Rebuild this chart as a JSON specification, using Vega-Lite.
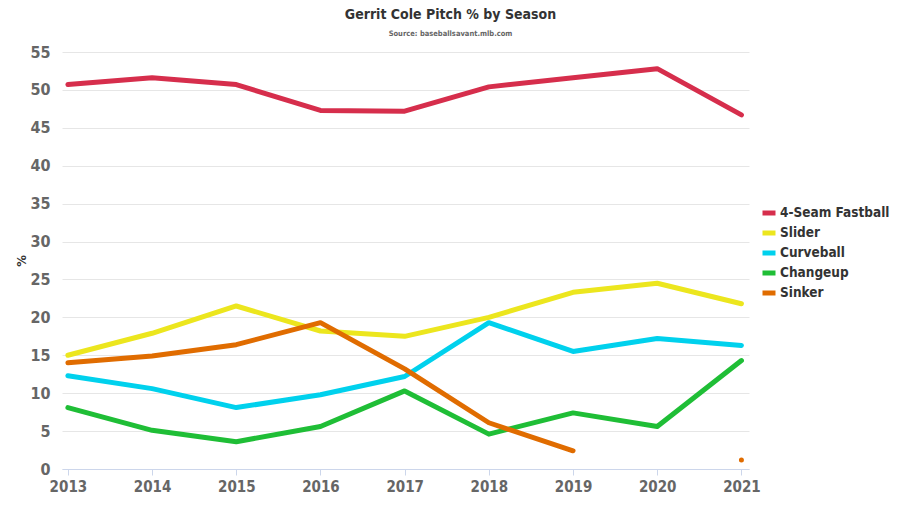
{
  "$schema": "https://vega.github.io/schema/vega-lite/v6.json",
  "width": 687,
  "height": 417,
  "autosize": {"type": "none"},
  "padding": {"left": 62, "top": 52, "right": 151, "bottom": 37},
  "background": "white",
  "title": {
    "text": "Gerrit Cole Pitch % by Season",
    "subtitle": "Source: baseballsavant.mlb.com",
    "anchor": "middle",
    "dx": 45,
    "offset": 7,
    "font": "DejaVu Sans Condensed, Roboto, sans-serif",
    "fontSize": 14,
    "fontWeight": "bold",
    "color": "#333333",
    "subtitleFont": "DejaVu Sans Condensed, Roboto, sans-serif",
    "subtitleFontSize": 7.5,
    "subtitleFontWeight": "bold",
    "subtitleColor": "#666666",
    "subtitlePadding": 8
  },
  "data": {
    "values": [
      {"season": 2013, "pitch": "4-Seam Fastball", "pct": 50.7},
      {"season": 2014, "pitch": "4-Seam Fastball", "pct": 51.6},
      {"season": 2015, "pitch": "4-Seam Fastball", "pct": 50.7},
      {"season": 2016, "pitch": "4-Seam Fastball", "pct": 47.3},
      {"season": 2017, "pitch": "4-Seam Fastball", "pct": 47.2},
      {"season": 2018, "pitch": "4-Seam Fastball", "pct": 50.4},
      {"season": 2019, "pitch": "4-Seam Fastball", "pct": 51.6},
      {"season": 2020, "pitch": "4-Seam Fastball", "pct": 52.8},
      {"season": 2021, "pitch": "4-Seam Fastball", "pct": 46.7},
      {"season": 2013, "pitch": "Slider", "pct": 15.0},
      {"season": 2014, "pitch": "Slider", "pct": 17.9},
      {"season": 2015, "pitch": "Slider", "pct": 21.5},
      {"season": 2016, "pitch": "Slider", "pct": 18.2},
      {"season": 2017, "pitch": "Slider", "pct": 17.5},
      {"season": 2018, "pitch": "Slider", "pct": 20.0},
      {"season": 2019, "pitch": "Slider", "pct": 23.3},
      {"season": 2020, "pitch": "Slider", "pct": 24.5},
      {"season": 2021, "pitch": "Slider", "pct": 21.8},
      {"season": 2013, "pitch": "Curveball", "pct": 12.3},
      {"season": 2014, "pitch": "Curveball", "pct": 10.6},
      {"season": 2015, "pitch": "Curveball", "pct": 8.1},
      {"season": 2016, "pitch": "Curveball", "pct": 9.8},
      {"season": 2017, "pitch": "Curveball", "pct": 12.2},
      {"season": 2018, "pitch": "Curveball", "pct": 19.3},
      {"season": 2019, "pitch": "Curveball", "pct": 15.5},
      {"season": 2020, "pitch": "Curveball", "pct": 17.2},
      {"season": 2021, "pitch": "Curveball", "pct": 16.3},
      {"season": 2013, "pitch": "Changeup", "pct": 8.1},
      {"season": 2014, "pitch": "Changeup", "pct": 5.1},
      {"season": 2015, "pitch": "Changeup", "pct": 3.6},
      {"season": 2016, "pitch": "Changeup", "pct": 5.6},
      {"season": 2017, "pitch": "Changeup", "pct": 10.3},
      {"season": 2018, "pitch": "Changeup", "pct": 4.6},
      {"season": 2019, "pitch": "Changeup", "pct": 7.4},
      {"season": 2020, "pitch": "Changeup", "pct": 5.6},
      {"season": 2021, "pitch": "Changeup", "pct": 14.3},
      {"season": 2013, "pitch": "Sinker", "pct": 14.0},
      {"season": 2014, "pitch": "Sinker", "pct": 14.9},
      {"season": 2015, "pitch": "Sinker", "pct": 16.4},
      {"season": 2016, "pitch": "Sinker", "pct": 19.3},
      {"season": 2017, "pitch": "Sinker", "pct": 13.2},
      {"season": 2018, "pitch": "Sinker", "pct": 6.1},
      {"season": 2019, "pitch": "Sinker", "pct": 2.4},
      {"season": 2020, "pitch": "Sinker", "pct": null},
      {"season": 2021, "pitch": "Sinker", "pct": 1.2}
    ]
  },
  "mark": {
    "type": "line",
    "strokeWidth": 5,
    "strokeCap": "round",
    "strokeJoin": "round"
  },
  "encoding": {
    "x": {
      "field": "season",
      "type": "quantitative",
      "scale": {"domain": [2012.93, 2021.09], "nice": false, "zero": false},
      "axis": {
        "title": null,
        "values": [2013, 2014, 2015, 2016, 2017, 2018, 2019, 2020, 2021],
        "format": "d",
        "grid": false,
        "domainColor": "#ccd6eb",
        "tickColor": "#ccd6eb",
        "tickSize": 6,
        "labelFont": "DejaVu Sans Condensed, Roboto, sans-serif",
        "labelFontSize": 15,
        "labelFontWeight": "bold",
        "labelColor": "#666666",
        "labelPadding": 4
      }
    },
    "y": {
      "field": "pct",
      "type": "quantitative",
      "scale": {"domain": [0, 55], "nice": false},
      "axis": {
        "title": "%",
        "titleFont": "DejaVu Sans Condensed, Roboto, sans-serif",
        "titleFontSize": 13,
        "titleFontWeight": "bold",
        "titleColor": "#333333",
        "titlePadding": 1,
        "values": [0, 5, 10, 15, 20, 25, 30, 35, 40, 45, 50, 55],
        "domain": false,
        "ticks": false,
        "gridColor": "#e6e6e6",
        "labelFont": "DejaVu Sans Condensed, Roboto, sans-serif",
        "labelFontSize": 16,
        "labelFontWeight": "bold",
        "labelColor": "#666666",
        "labelPadding": 12
      }
    },
    "color": {
      "field": "pitch",
      "type": "nominal",
      "scale": {
        "domain": ["4-Seam Fastball", "Slider", "Curveball", "Changeup", "Sinker"],
        "range": ["#d62e4c", "#ece61e", "#00d1ed", "#1fbe36", "#e06c00"]
      },
      "legend": {
        "title": null,
        "orient": "none",
        "legendX": 698,
        "legendY": 152,
        "symbolType": "stroke",
        "symbolStrokeWidth": 5,
        "symbolSize": 169,
        "labelFont": "DejaVu Sans Condensed, Roboto, sans-serif",
        "labelFontSize": 13.5,
        "labelFontWeight": "bold",
        "labelColor": "#333333",
        "labelOffset": 2,
        "rowPadding": 0
      }
    }
  },
  "config": {
    "view": {"stroke": null}
  }
}
